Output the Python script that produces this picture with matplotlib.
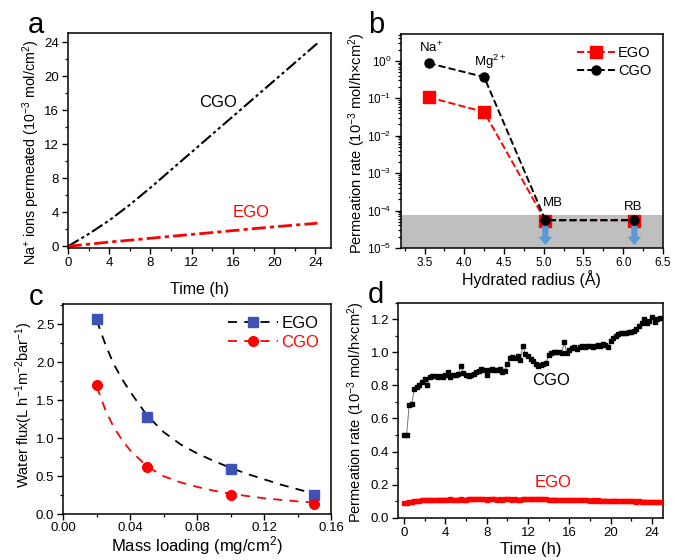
import numpy as np
import matplotlib
matplotlib.use("Agg")
import matplotlib.pyplot as plt
from matplotlib.ticker import MultipleLocator, LogLocator, NullFormatter

plt.rcParams["font.family"] = ["Liberation Sans", "DejaVu Sans"]
plt.rcParams["mathtext.fontset"] = "custom"
plt.rcParams["mathtext.rm"] = "Liberation Sans"
plt.rcParams["mathtext.it"] = "Liberation Sans:italic"
plt.rcParams["mathtext.bf"] = "Liberation Sans:bold"
plt.rcParams["axes.linewidth"] = 1.1

# ---------------------------------------------------------------------------
# Data
# ---------------------------------------------------------------------------

# (a) cumulative Na+ permeated vs time
time_a = [0, 2, 4, 6, 8, 10, 12, 14, 16, 18, 20, 22, 24, 24.2]
cgo_a = [0, 1.45, 3.05, 4.9, 6.9, 9.0, 11.1, 13.2, 15.3, 17.4, 19.5, 21.6, 23.7, 23.9]
ego_a = [0, 0.25, 0.5, 0.72, 0.95, 1.18, 1.4, 1.62, 1.85, 2.08, 2.3, 2.5, 2.7, 2.72]

# (b) permeation rate vs hydrated radius
radius_b = [3.55, 4.25, 5.02, 6.14]
ion_labels = ["Na$^{+}$", "Mg$^{2+}$", "MB", "RB"]
ego_b = [0.107, 0.043, 5.4e-5, 5.4e-5]
cgo_b = [0.87, 0.37, 5.6e-5, 5.6e-5]
detection_limit = 7.7e-5

# (c) water flux vs mass loading
loading_c = [0.02, 0.05, 0.10, 0.15]
ego_c = [2.57, 1.28, 0.60, 0.25]
cgo_c = [1.70, 0.62, 0.26, 0.13]
fit_x = [0.02, 0.025, 0.03, 0.035, 0.04, 0.05, 0.06, 0.07, 0.08, 0.09, 0.10, 0.11, 0.12, 0.13, 0.14, 0.15]
ego_fit = [2.55, 2.24, 1.98, 1.78, 1.61, 1.30, 1.08, 0.92, 0.80, 0.70, 0.61, 0.53, 0.46, 0.39, 0.33, 0.27]
cgo_fit = [1.68, 1.38, 1.15, 0.98, 0.84, 0.63, 0.50, 0.42, 0.36, 0.31, 0.27, 0.24, 0.21, 0.19, 0.17, 0.155]

# (d) permeation rate vs time, one point every 15 min
step_d = 0.25
cgo_d = [0.50, 0.50, 0.68, 0.69, 0.78, 0.79, 0.80, 0.82, 0.84, 0.80,
         0.85, 0.855, 0.855, 0.85, 0.855, 0.85, 0.86, 0.88, 0.85, 0.86,
         0.865, 0.87, 0.92, 0.875, 0.86, 0.855, 0.86, 0.87, 0.88, 0.89,
         0.90, 0.895, 0.86, 0.895, 0.90, 0.895, 0.895, 0.90, 0.88, 0.89,
         0.93, 0.965, 0.97, 0.965, 0.98, 0.955, 1.04, 0.99, 0.98, 0.96,
         0.945, 0.93, 0.92, 0.925, 0.93, 0.935, 0.985, 0.995, 1.00, 1.005,
         1.00, 0.995, 1.06, 0.995, 1.015, 1.025, 1.03, 1.02, 1.03, 1.04,
         1.035, 1.04, 1.04, 1.035, 1.04, 1.045, 1.04, 1.05, 1.045, 1.035,
         1.07, 1.085, 1.10, 1.11, 1.115, 1.12, 1.115, 1.125, 1.125, 1.13,
         1.14, 1.16, 1.175, 1.20, 1.18, 1.19, 1.215, 1.185, 1.20, 1.205]
ego_d = [0.090, 0.092, 0.095, 0.098, 0.100, 0.102, 0.104, 0.105, 0.106, 0.107,
         0.108, 0.108, 0.109, 0.109, 0.110, 0.109, 0.110, 0.110, 0.111, 0.110,
         0.109, 0.110, 0.111, 0.110, 0.110, 0.111, 0.112, 0.111, 0.112, 0.113,
         0.112, 0.111, 0.110, 0.111, 0.112, 0.111, 0.110, 0.111, 0.110, 0.111,
         0.112, 0.111, 0.110, 0.111, 0.110, 0.110, 0.111, 0.112, 0.112, 0.111,
         0.112, 0.113, 0.112, 0.111, 0.112, 0.111, 0.110, 0.109, 0.110, 0.109,
         0.108, 0.109, 0.108, 0.107, 0.108, 0.107, 0.106, 0.107, 0.106, 0.105,
         0.106, 0.105, 0.104, 0.105, 0.104, 0.105, 0.104, 0.103, 0.104, 0.103,
         0.102, 0.103, 0.104, 0.102, 0.101, 0.102, 0.100, 0.101, 0.099, 0.100,
         0.098, 0.099, 0.097, 0.098, 0.097, 0.096, 0.097, 0.095, 0.096, 0.095]
time_cgo_d = np.arange(len(cgo_d)) * step_d
time_ego_d = np.arange(len(ego_d)) * step_d

# ---------------------------------------------------------------------------
# Figure
# ---------------------------------------------------------------------------

fig = plt.figure(figsize=(6.75, 5.6), dpi=100)
ax_a = fig.add_axes([0.1007, 0.5571, 0.3896, 0.3839])
ax_b = fig.add_axes([0.5936, 0.5571, 0.3886, 0.3821])
ax_c = fig.add_axes([0.0938, 0.0816, 0.3966, 0.3750])
ax_d = fig.add_axes([0.5901, 0.0755, 0.3926, 0.3839])

for ax in (ax_a, ax_b, ax_c, ax_d):
    ax.tick_params(which="both", direction="out", top=False, right=False)
    ax.tick_params(which="major", length=4, width=1, labelsize=9.5, pad=2.5)
    ax.tick_params(which="minor", length=2.5, width=0.9)

# --- a ---
ax_a.plot(time_a, cgo_a, color="black", lw=1.5, ls=(0, (6, 1.5, 1.5, 1.5, 1.5, 1.5)))
ax_a.plot(time_a, ego_a, color="#ff0000", lw=2, ls=(0, (5, 1.5, 1.5, 1.5)))
ax_a.set_xlim(0, 25.5)
ax_a.set_ylim(-0.2, 25.1)
ax_a.xaxis.set_major_locator(MultipleLocator(4))
ax_a.xaxis.set_minor_locator(MultipleLocator(2))
ax_a.yaxis.set_major_locator(MultipleLocator(4))
ax_a.yaxis.set_minor_locator(MultipleLocator(2))
ax_a.text(14.6, 16.9, "CGO", fontsize=12, ha="center", va="center")
ax_a.text(17.8, 4.0, "EGO", fontsize=12, color="#ff0000", ha="center", va="center")
ax_a.set_xlabel("Time (h)", fontsize=11.5, labelpad=9)
ax_a.set_ylabel("Na$^{+}$ ions permeated (10$^{-3}$ mol/cm$^{2}$)", fontsize=10.3)
ax_a.yaxis.set_label_coords(-0.099, 0.445)

# --- b ---
ax_b.axhspan(1e-5, detection_limit, color="#bfbfbf", zorder=0, lw=0)
ax_b.plot(radius_b, ego_b, color="#ff0000", ls="--", lw=1.4, marker="s", ms=8,
          mfc="#ff0000", mec="#ff0000", label="EGO", zorder=3)
ax_b.plot(radius_b, cgo_b, color="black", ls="--", lw=1.4, marker="o", ms=6.5,
          mfc="black", mec="black", label="CGO", zorder=4)
ax_b.set_yscale("log")
ax_b.set_xlim(3.2, 6.5)
ax_b.set_ylim(1e-5, 5.2)
ax_b.xaxis.set_major_locator(MultipleLocator(0.5))
ax_b.xaxis.set_minor_locator(MultipleLocator(0.25))
ax_b.yaxis.set_major_locator(LogLocator(base=10, numticks=10))
ax_b.yaxis.set_minor_locator(LogLocator(base=10, subs=np.arange(2, 10), numticks=10))
ax_b.yaxis.set_minor_formatter(NullFormatter())
ax_b.tick_params(which="major", labelsize=8.5)
label_pos = [(3.58, 2.3), (4.33, 0.94), (5.11, 1.63e-4), (6.13, 1.28e-4)]
for (x, y), lab in zip(label_pos, ion_labels):
    ax_b.text(x, y, lab, fontsize=9.5, ha="center", va="center")
for x in radius_b[2:]:
    ax_b.annotate("", xy=(x, 1.2e-5), xytext=(x, 3.9e-5),
                  arrowprops=dict(facecolor="#5b9bd5", edgecolor="none",
                                  width=4.5, headwidth=10, headlength=6))
ax_b.legend(loc="upper right", fontsize=10.5, frameon=False, handlelength=2.6,
            handletextpad=0.2, borderaxespad=0.4, labelspacing=0.3)
ax_b.set_xlabel("Hydrated radius (Å)", fontsize=11.5, labelpad=1)
ax_b.set_ylabel("Permeation rate (10$^{-3}$ mol/h×cm$^{2}$)", fontsize=10.5)
ax_b.yaxis.set_label_coords(-0.125, 0.49)

# --- c ---
ax_c.plot(fit_x, ego_fit, color="black", ls=(0, (5, 4)), lw=1.3)
ax_c.plot(fit_x, cgo_fit, color="#ff0000", ls=(0, (5, 4)), lw=1.3)
ax_c.plot(loading_c, ego_c, ls="none", marker="s", ms=6.5, color="#3f51b5")
ax_c.plot(loading_c, cgo_c, ls="none", marker="o", ms=7, color="#ff0000")
h_ego, = ax_c.plot([], [], color="black", ls=(0, (5, 4)), lw=1.3, marker="s",
                   ms=6.5, mfc="#3f51b5", mec="#3f51b5")
h_cgo, = ax_c.plot([], [], color="#ff0000", ls=(0, (5, 4)), lw=1.3, marker="o",
                   ms=7, mfc="#ff0000", mec="#ff0000")
leg_c = ax_c.legend([h_ego, h_cgo], ["EGO", "CGO"], loc="upper right", fontsize=12,
                    frameon=False, handlelength=3.0, handletextpad=0.2,
                    borderaxespad=0.3, labelspacing=0.25)
leg_c.get_texts()[1].set_color("#ff0000")
ax_c.set_xlim(0, 0.16)
ax_c.set_ylim(0, 2.76)
ax_c.xaxis.set_major_locator(MultipleLocator(0.04))
ax_c.xaxis.set_minor_locator(MultipleLocator(0.02))
ax_c.yaxis.set_major_locator(MultipleLocator(0.5))
ax_c.yaxis.set_minor_locator(MultipleLocator(0.25))
ax_c.xaxis.set_major_formatter(plt.FuncFormatter(lambda v, p: f"{v:.2f}"))
ax_c.tick_params(axis="x", pad=1.5)
ax_c.set_xlabel("Mass loading (mg/cm$^{2}$)", fontsize=12, labelpad=0)
ax_c.set_ylabel("Water flux(L h$^{-1}$m$^{-2}$bar$^{-1}$)", fontsize=10.5)
ax_c.yaxis.set_label_coords(-0.106, 0.525)

# --- d ---
ax_d.plot(time_cgo_d, cgo_d, color="#777777", lw=0.7, zorder=2)
ax_d.plot(time_cgo_d, cgo_d, ls="none", marker="s", ms=3.4, color="black", zorder=3)
ax_d.plot(time_ego_d, ego_d, color="#ff0000", lw=2.5, zorder=2)
ax_d.plot(time_ego_d, ego_d, ls="none", marker="s", ms=3.2, color="#ff0000", zorder=3)
ax_d.set_xlim(-0.55, 25.1)
ax_d.set_ylim(0, 1.3)
ax_d.xaxis.set_major_locator(MultipleLocator(4))
ax_d.xaxis.set_minor_locator(MultipleLocator(2))
ax_d.yaxis.set_major_locator(MultipleLocator(0.2))
ax_d.yaxis.set_minor_locator(MultipleLocator(0.1))
ax_d.text(14.2, 0.83, "CGO", fontsize=12, ha="center", va="center")
ax_d.text(14.4, 0.21, "EGO", fontsize=12, color="#ff0000", ha="center", va="center")
ax_d.set_xlabel("Time (h)", fontsize=12, labelpad=2)
ax_d.set_ylabel("Permeation rate (10$^{-3}$ mol/h×cm$^{2}$)", fontsize=10.5)
ax_d.yaxis.set_label_coords(-0.118, 0.49)

# panel letters
for x, y, s in [(0.041, 0.941, "a"), (0.545, 0.941, "b"), (0.042, 0.456, "c"), (0.545, 0.459, "d")]:
    fig.text(x, y, s, fontsize=21, ha="left", va="baseline")

fig.savefig("out.png", dpi=100)
